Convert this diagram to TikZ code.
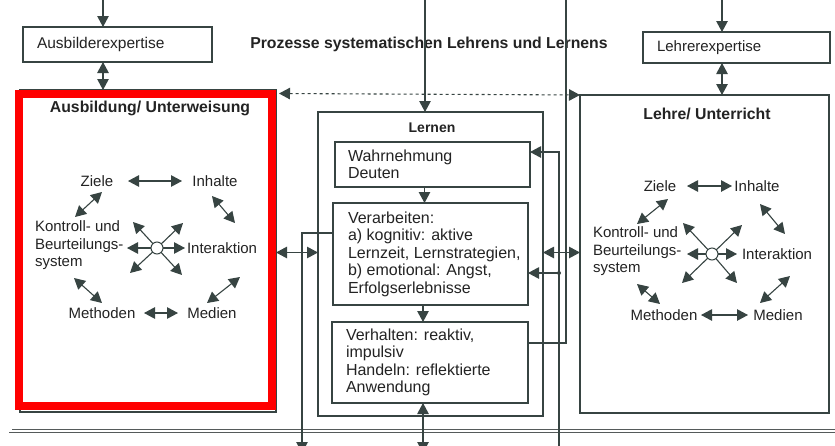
\documentclass[tikz,border=0pt]{standalone}
\usepackage{fontspec}
\setmainfont{Liberation Sans}
\usetikzlibrary{arrows.meta,calc}
\definecolor{ink}{RGB}{55,68,66}
\definecolor{txtc}{RGB}{35,35,35}
\definecolor{framec}{RGB}{85,90,90}
\begin{document}
\begin{tikzpicture}[x=1pt,y=-1pt,
  every node/.style={text=txtc, inner sep=0pt, outer sep=0pt},
  arrH/.style={arrows={-Triangle[length=11pt,width=11.5pt]}},
  arrD/.style={arrows={Triangle[length=11pt,width=11.5pt]-Triangle[length=11pt,width=11.5pt]}},
  conn/.style={draw=ink, line width=1.1pt},
  box/.style={draw=ink, line width=1.4pt, anchor=north west},
  bigbox/.style={draw=ink, line width=2pt, anchor=north west},
  btxt/.style={align=left, anchor=west, font=\fontsize{16}{17.5}\selectfont},
  ttl/.style={font=\fontsize{15.8}{18}\selectfont\bfseries},
  lab/.style={font=\fontsize{15}{17.5}\selectfont},
  hub/.style={circle, draw=ink, fill=white, line width=1pt, minimum size=12pt},
]
\clip (0,0) rectangle (835,445);
\fill[white] (0,0) rectangle (835,445);

% outer double frame
\draw[draw=framec, double, double distance=2.2pt, line width=0.75pt] (10.5,8.5) rectangle (900,431);

% big boxes
\node[bigbox, minimum width=256, minimum height=322] (ausbildung) at (20,90) {};
\draw[red, line width=8pt] (19,93.5) rectangle (272,406);
\node[bigbox, minimum width=249, minimum height=318] (lehre) at (580,95) {};
\node[bigbox, line width=2.3pt, minimum width=225, minimum height=304] (lernen) at (318,112) {};

% expertise boxes
\node[box, line width=1.8pt, minimum width=189, minimum height=35] (ausb) at (23,27) {};
\node[btxt, font=\fontsize{15.5}{17.5}\selectfont] (ausbT) at ($(ausb.west)+(14,0)$) {Ausbilderexpertise};
\node[box, line width=1.8pt, minimum width=187, minimum height=31] (lehrer) at (643,32) {};
\node[btxt, font=\fontsize{15}{17.5}\selectfont] (lehrerT) at ($(lehrer.west)+(14,0)$) {Lehrerexpertise};

% titles
\node[ttl] (title) at (429,44) {Prozesse systematischen Lehrens und Lernens};
\node[ttl] (ausbildungT) at (150,108) {Ausbildung/ Unterweisung};
\node[ttl] (lehreT) at (707,114) {Lehre/ Unterricht};
\node[ttl, font=\fontsize{14}{16}\selectfont\bfseries] (lernenT) at (432,128) {Lernen};

% Lernen inner boxes
\node[box, minimum width=195, minimum height=45] (wahr) at (335,142) {};
\node[btxt] (wahrT) at ($(wahr.west)+(13,0)$) {Wahrnehmung\\Deuten};
\node[box, minimum width=195, minimum height=102] (verarb) at (333,203) {};
\node[btxt] (verarbT) at ($(verarb.west)+(15,0)$) {Verarbeiten:\\a) kognitiv: aktive\\Lernzeit, Lernstrategien,\\b) emotional: Angst,\\Erfolgserlebnisse};
\node[box, minimum width=196, minimum height=81] (verh) at (332,322) {};
\node[btxt] (verhT) at ($(verh.west)+(14,0)$) {Verhalten: reaktiv,\\impulsiv\\Handeln: reflektierte\\Anwendung};

% connectors top
\coordinate (t1) at (103,0);
\draw[conn, arrH] (t1) -- (t1 |- ausb.north);
\draw[conn, arrD] (t1 |- ausb.south) -- (t1 |- ausbildung.north);
\coordinate (t2) at (425,0);
\draw[conn, arrH] (t2) -- (t2 |- lernen.north);
\coordinate (t4) at (722,0);
\draw[conn, arrH] (t4) -- (t4 |- lehrer.north);
\draw[conn, arrD] (t4 |- lehrer.south) -- (t4 |- lehre.north);
\coordinate (dl) at ($(ausbildung.north east)+(3,3.5)$);
\draw[conn, dashed, arrD] (dl) -- (lehre.north west);

% side double arrows
\coordinate (m1) at (0,252.5);
\draw[conn, arrD] (ausbildung.east |- m1) -- (lernen.west |- m1);
\draw[conn, arrD] (lernen.east |- m1) -- (lehre.west |- m1);

% inner flow
\coordinate (c1) at (424.5,0);
\draw[conn, arrH] (wahr.south -| c1) -- (verarb.north -| c1);
\coordinate (c2) at (423,0);
\draw[conn, arrH] (verarb.south -| c2) -- (verh.north -| c2);

% bottom arrows
\coordinate (b2) at (423,453);
\draw[conn, arrD] (verh.south -| b2) -- (b2);
\coordinate (vL) at ($(verarb.north west)+(0,30)$);
\coordinate (b1) at (302,453);
\draw[conn, arrH] (vL) -| (b1);

% right feedback lines
\coordinate (b3) at (559,453);
\coordinate (wIn) at ($(wahr.north east)+(0,10)$);
\draw[conn, arrH] (b3) |- (wIn);
\coordinate (dt) at (559,273);
\fill[ink] (dt) circle (2);
\draw[conn, arrH] (dt) -- (verarb.east |- dt);
\coordinate (t3) at (566,0);
\coordinate (vOut) at ($(verh.north east)+(0,21)$);
\draw[conn] (t3) |- (vOut);

% left circle diagram
\node[hub] (lc) at (157,248) {};
\node[lab] (lZ) at (97,181) {Ziele};
\node[lab] (lI) at (215,181) {Inhalte};
\node[lab, align=left, anchor=west] (lK) at (35,245.5) {Kontroll- und\\Beurteilungs-\\system};
\node[lab, anchor=west] (lN) at (187,248) {Interaktion};
\node[lab] (lM) at (102,313) {Methoden};
\node[lab] (lD) at (212,313) {Medien};
\foreach \ax/\ay/\bx/\by in {-29/-67/25/-67, -55/-56/-82/-31, 55/-52/78/-25, -83/30/-55/55, 83/29/50/55, -13/65/21/65}
  \draw[conn, arrD] ($(lc)+(\ax,\ay)$) -- ($(lc)+(\bx,\by)$);
\foreach \dx/\dy in {-24/-26, 26/-25, -30/0, 28/0, -27/25, 25/27}
  \draw[conn, arrH] (lc) -- ($(lc)+(\dx,\dy)$);

% right circle diagram
\node[hub] (rc) at (712,254) {};
\node[lab] (rZ) at (660,186) {Ziele};
\node[lab] (rI) at (757,186) {Inhalte};
\node[lab, align=left, anchor=west] (rK) at (593,251.5) {Kontroll- und\\Beurteilungs-\\system};
\node[lab, anchor=west] (rN) at (742,254) {Interaktion};
\node[lab] (rM) at (664,315) {Methoden};
\node[lab] (rD) at (778,315) {Medien};
\foreach \ax/\ay/\bx/\by in {-25/-68/20/-68, -44/-55/-75/-30, 48/-50/73/-20, -75/30/-52/50, 78/22/48/49, -11/61/36/61}
  \draw[conn, arrD] ($(rc)+(\ax,\ay)$) -- ($(rc)+(\bx,\by)$);
\foreach \dx/\dy in {-29/-31, 30/-29, -25/0, 25/0, -30/29, 25/29}
  \draw[conn, arrH] (rc) -- ($(rc)+(\dx,\dy)$);
\end{tikzpicture}
\end{document}
